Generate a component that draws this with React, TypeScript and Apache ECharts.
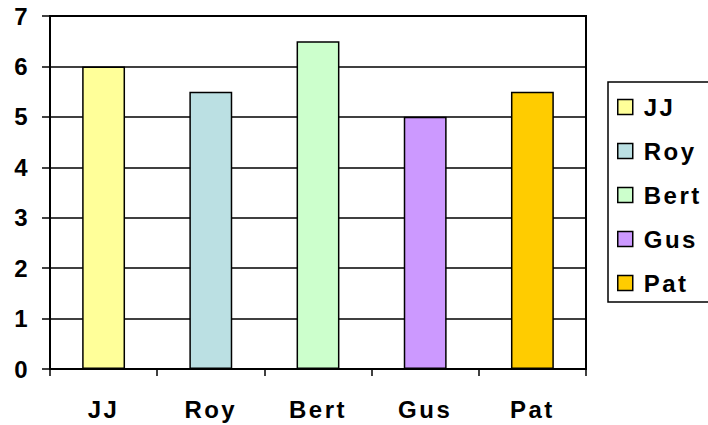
import React, { useEffect, useRef } from "react";
import * as echarts from "echarts";

const categories = ["JJ", "Roy", "Bert", "Gus", "Pat"];
const values = [6, 5.5, 6.5, 5, 5.5];
const colors = ["#FFFF99", "#BBE0E3", "#CCFFCC", "#CC99FF", "#FFCC00"];
const yTicks = [0, 1, 2, 3, 4, 5, 6, 7];

export default function App() {
  const ref = useRef<HTMLDivElement>(null);
  useEffect(() => {
    document.body.style.margin = "0";
    const styleEl = document.createElement("style");
    styleEl.textContent = "#root svg text { letter-spacing: 2.5px; }";
    document.head.appendChild(styleEl);
    const chart = echarts.init(ref.current!, null, { renderer: "svg" });
    const font = "Liberation Sans, Arial, sans-serif";
    const series = categories.map((name, i) => ({
      name,
      type: "bar",
      stack: "all",
      barWidth: "40%",
      data: categories.map((_, j) => (j === i ? values[i] : "-")),
      itemStyle: { color: colors[i], borderColor: "#000", borderWidth: 1.5 },
    }));
    chart.setOption({
      animation: false,
      backgroundColor: "#fff",
      grid: {
        left: 50,
        top: 16,
        right: 122,
        bottom: 56,
        show: true,
        borderColor: "#000",
        borderWidth: 2,
        containLabel: false,
      },
      legend: {
        orient: "vertical",
        left: 608,
        top: 82,
        padding: [13, 30, 7, 9],
        itemGap: 20,
        itemWidth: 15,
        itemHeight: 15,
        borderColor: "#000",
        borderWidth: 1.5,
        icon: "rect",
        itemStyle: { borderColor: "#000", borderWidth: 1.5 },
        textStyle: {
          fontFamily: font,
          fontSize: 24,
          fontWeight: "bold",
          color: "#000",
          lineHeight: 24,
          padding: [0, 0, 0, 6],
        },
        data: categories,
      },
      xAxis: {
        type: "category",
        data: categories,
        axisLine: { lineStyle: { color: "#000", width: 2 } },
        axisTick: { show: true, length: 7, lineStyle: { color: "#000", width: 1.5 } },
        axisLabel: {
          margin: 28,
          fontFamily: font,
          fontSize: 24,
          fontWeight: "bold",
          color: "#000",
        },
      },
      yAxis: {
        type: "value",
        min: yTicks[0],
        max: yTicks[yTicks.length - 1],
        interval: 1,
        axisLine: { show: true, lineStyle: { color: "#000", width: 2 } },
        axisTick: { show: true, length: 8, lineStyle: { color: "#000", width: 1.5 } },
        splitLine: { show: true, lineStyle: { color: "#000", width: 1.5 } },
        axisLabel: {
          margin: 20,
          padding: [6, 0, 0, 0],
          fontFamily: font,
          fontSize: 24,
          fontWeight: "bold",
          color: "#000",
        },
      },
      series,
    });
    return () => {
      chart.dispose();
      styleEl.remove();
    };
  }, []);
  return <div ref={ref} style={{ width: 708, height: 425 }} />;
}
